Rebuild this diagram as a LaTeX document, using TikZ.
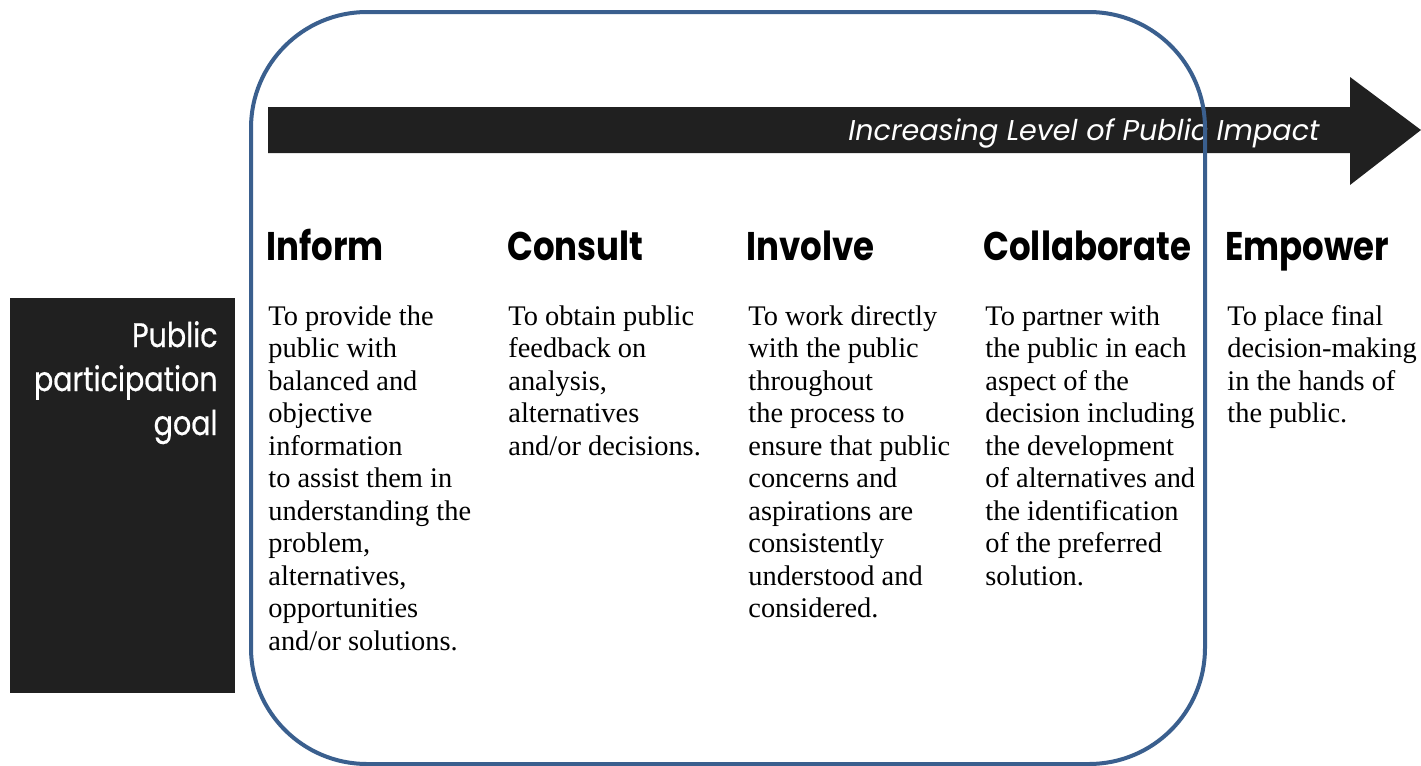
\documentclass[tikz,border=0pt]{standalone}
\usepackage{fontspec}
\setmainfont{Liberation Serif}
\newfontfamily\headfont[FakeStretch=0.85]{Poppins}
\newfontfamily\goalfont[FakeStretch=0.84,FakeBold=0.6]{Poppins}
\newfontfamily\bannerfont{Poppins}
\definecolor{frameblue}{RGB}{58,95,142}
\definecolor{panel}{RGB}{32,32,32}
\tikzset{
  heading/.style={anchor=base west, inner sep=0pt, font=\headfont\bfseries\fontsize{20}{24}\selectfont},
  body/.style={anchor=base west, inner sep=0pt, align=left, font=\fontsize{14.2}{16.25}\selectfont},
}
\begin{document}
\begin{tikzpicture}[x=0.5pt,y=-0.5pt]
\useasboundingbox (0,0) rectangle (1421,766);
\fill[white] (0,0) rectangle (1421,766);
% left panel
\fill[panel] (10,298) rectangle (235,693);
\node[anchor=base east, inner sep=0pt, text=white, align=right,
  font=\goalfont\fontsize{17}{22}\selectfont] (goal) at (218,435)
  {Public\\participation\\goal};
% arrow
\fill[panel] (268,107) -- (1350,107) -- (1350,77) -- (1421,130) -- (1350,185) -- (1350,153) -- (268,153) -- cycle;
\node[anchor=base east, inner sep=0pt, text=white, font=\bannerfont\itshape\fontsize{14.3}{18}\selectfont] (impact) at (1320,140) {Increasing Level of Public Impact};
% headings
\node[heading] (h1) at (266,260) {Inform};
\node[heading] (h2) at (507,260) {Consult};
\node[heading] (h3) at (746,260) {Involve};
\node[heading] (h4) at (983,260) {Collaborate};
\node[heading] (h5) at (1225,260) {Empower};
% bodies (anchored at the baseline of the last line; line pitch 32.5)
\node[body] (b1) at (268,650) {To provide the\\public with\\balanced and\\objective\\information\\to assist them in\\understanding the\\problem,\\alternatives,\\opportunities\\and/or solutions.};
\node[body] (b2) at (508,455) {To obtain public\\feedback on\\analysis,\\alternatives\\and/or decisions.};
\node[body] (b3) at (748,617.5) {To work directly\\with the public\\throughout\\the process to\\ensure that public\\concerns and\\aspirations are\\consistently\\understood and\\considered.};
\node[body] (b4) at (985,585) {To partner with\\the public in each\\aspect of the\\decision including\\the development\\of alternatives and\\the identification\\of the preferred\\solution.};
\node[body] (b5) at (1227,422.5) {To place final\\decision-making\\in the hands of\\the public.};
% blue frame
\draw[frameblue, line width=2pt, rounded corners=58pt] (251,12) rectangle (1205,764);
\end{tikzpicture}
\end{document}
